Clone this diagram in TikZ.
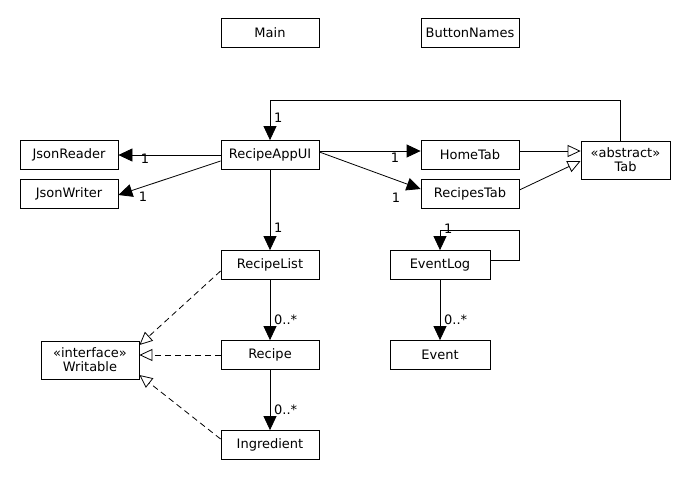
\documentclass[tikz,border=0pt]{standalone}
\usepackage{fontspec}
\setmainfont{DejaVu Sans}
\usetikzlibrary{arrows.meta}
\begin{document}
\begin{tikzpicture}[x=1pt,y=-1pt,
  cls/.style={draw,line width=0.8pt,minimum width=98pt,minimum height=29pt,inner sep=0pt,font=\fontsize{13}{14}\selectfont,align=center},
  assoc/.style={draw,line width=0.8pt,-{Triangle[length=14pt,width=13pt]}},
  gen/.style={draw,line width=0.8pt,-{Triangle[open,length=13pt,width=12pt]}},
  real/.style={gen,dash pattern=on 6pt off 4pt},
  lbl/.style={font=\fontsize{13}{14}\selectfont,inner sep=1pt}]
\useasboundingbox (0,0) rectangle (690,480);
\node[cls] (main) at (270,33) {Main};
\node[cls] (bn) at (470,33) {ButtonNames};
\node[cls] (jr) at (69,155) {JsonReader};
\node[cls] (jw) at (69,194) {JsonWriter};
\node[cls] (ui) at (270,155) {RecipeAppUI};
\node[cls] (home) at (470,155) {HomeTab};
\node[cls] (rt) at (470,194) {RecipesTab};
\node[cls,minimum width=89pt,minimum height=38pt] (tab) at (625.5,160) {«abstract»\\Tab};
\node[cls] (rl) at (270,265) {RecipeList};
\node[cls] (rec) at (270,355) {Recipe};
\node[cls] (ing) at (270,445) {Ingredient};
\node[cls,minimum height=38pt] (wr) at (90,360) {«interface»\\Writable};
\node[cls,minimum width=100pt] (el) at (440,265) {EventLog};
\node[cls,minimum width=100pt] (ev) at (440,355) {Event};
% Tab -> RecipeAppUI loop
\coordinate (t1) at (620,100);
\coordinate (t2) at (270,100);
\draw[assoc] (tab.north -| t1) -- (t1) -- (t2) -- (ui.north);
\node[lbl,anchor=west] (l1) at (273,118) {1};
% RecipeAppUI -> JsonReader / JsonWriter
\draw[assoc] (ui.west) -- (jr.east);
\node[lbl] (l2) at (145,159) {1};
\draw[assoc] (ui.west |- 0,161) -- (jw.east |- 0,195);
\node[lbl] (l3) at (143,197) {1};
% RecipeAppUI -> HomeTab / RecipesTab
\draw[assoc] (ui.east |- 0,151) -- (home.west |- 0,151);
\node[lbl] (l4) at (395,158) {1};
\draw[assoc] (ui.east |- 0,152) -- (rt.west |- 0,189);
\node[lbl] (l5) at (396,198) {1};
% generalisations
\draw[gen] (home.east |- 0,151) -- (tab.west |- 0,151);
\draw[gen] (rt.east |- 0,190) -- (tab.west |- 0,161);
% RecipeAppUI -> RecipeList -> Recipe -> Ingredient
\draw[assoc] (ui.south) -- (rl.north);
\node[lbl,anchor=west] (l6) at (273,228) {1};
\draw[assoc] (rl.south) -- (rec.north);
\node[lbl,anchor=west] (l7) at (273,320) {0..*};
\draw[assoc] (rec.south) -- (ing.north);
\node[lbl,anchor=west] (l8) at (273,410) {0..*};
% realisations
\draw[real] (rl.west |- 0,271) -- (wr.east |- 0,345);
\draw[real] (rec.west) -- (wr.east |- rec.west);
\draw[real] (ing.west |- 0,439) -- (wr.east |- 0,375);
% EventLog loop
\coordinate (e1) at (519,260);
\coordinate (e2) at (519,230);
\coordinate (e3) at (440,230);
\draw[assoc] (el.east |- e1) -- (e1) -- (e2) -- (e3) -- (el.north);
\node[lbl,anchor=west] (l9) at (443,229) {1};
\draw[assoc] (el.south) -- (ev.north);
\node[lbl,anchor=west] (l10) at (443,320) {0..*};
\end{tikzpicture}
\end{document}
